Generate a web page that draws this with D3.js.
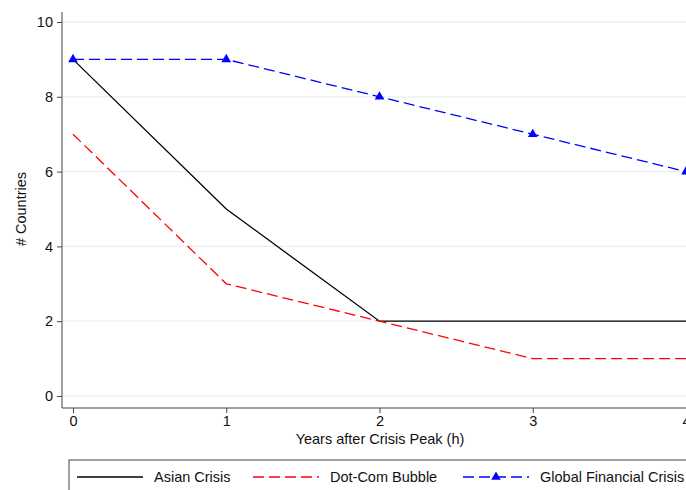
<!DOCTYPE html>
<html>
<head>
<meta charset="utf-8">
<script src="https://cdn.jsdelivr.net/npm/d3@7"></script>
<style>
  html, body { margin: 0; padding: 0; background: #fff; overflow: hidden; }
  svg { display: block; font-family: "Liberation Sans", Arial, sans-serif; }
</style>
</head>
<body>
<svg id="chart" width="686" height="490"></svg>
<script>
// Years after the crisis peak
const years = [0, 1, 2, 3, 4];
// Number of countries still affected
const asianCrisis = [9, 5, 2, 2, 2];
const dotComBubble = [7, 3, 2, 1, 1];
const globalFinancialCrisis = [9, 9, 8, 7, 6];
const yTicks = [0, 2, 4, 6, 8, 10];
const seriesNames = ["Asian Crisis", "Dot-Com Bubble", "Global Financial Crisis"];

const FS = 14.5;
const svg = d3.select("#chart");

const x = d3.scaleLinear().domain([0, 4]).range([73, 686]);
const y = d3.scaleLinear().domain([0, 10]).range([396, 22]);

// Grid lines
svg.append("g")
  .selectAll("line")
  .data(yTicks)
  .join("line")
  .attr("x1", 62).attr("x2", 686)
  .attr("y1", d => y(d)).attr("y2", d => y(d))
  .attr("stroke", "#e8eff3")
  .attr("stroke-width", 1.3);

// Y axis
const yAxis = svg.append("g")
  .attr("transform", "translate(62,0)")
  .call(d3.axisLeft(y).tickValues(yTicks).tickSize(5).tickPadding(4).tickFormat(d3.format("d")));
yAxis.select(".domain").attr("d", "M0,12V408").attr("stroke", "#444");
yAxis.selectAll(".tick line").attr("stroke", "#444");
yAxis.selectAll(".tick text").attr("font-size", FS).attr("fill", "#111")
  .attr("font-family", "Liberation Sans, Arial, sans-serif");

// X axis
const xAxis = svg.append("g")
  .attr("transform", "translate(0,408)")
  .call(d3.axisBottom(x).tickValues(years).tickSize(5).tickPadding(3).tickFormat(d3.format("d")));
xAxis.select(".domain").attr("d", "M62,0H686").attr("stroke", "#444");
xAxis.selectAll(".tick line").attr("stroke", "#444");
xAxis.selectAll(".tick text").attr("font-size", FS).attr("fill", "#111")
  .attr("font-family", "Liberation Sans, Arial, sans-serif");

// Axis titles
svg.append("text")
  .attr("x", 380).attr("y", 444)
  .attr("text-anchor", "middle")
  .attr("font-size", FS).attr("fill", "#111")
  .text("Years after Crisis Peak (h)");

svg.append("text")
  .attr("transform", "translate(26,209) rotate(-90)")
  .attr("text-anchor", "middle")
  .attr("font-size", FS).attr("fill", "#111")
  .text("# Countries");

const line = d3.line().x((d, i) => x(years[i])).y(d => y(d));

const series = [
  { values: asianCrisis, color: "#000000", dash: null, marker: false },
  { values: dotComBubble, color: "#ff0000", dash: "11,5", marker: false },
  { values: globalFinancialCrisis, color: "#0000ff", dash: "11,5", marker: true }
];

series.forEach(s => {
  svg.append("path")
    .attr("d", line(s.values))
    .attr("fill", "none")
    .attr("stroke", s.color)
    .attr("stroke-width", 1.3)
    .attr("stroke-dasharray", s.dash);
  if (s.marker) {
    svg.append("g")
      .selectAll("path")
      .data(s.values)
      .join("path")
      .attr("transform", (d, i) => `translate(${x(years[i])},${y(d)})`)
      .attr("d", d3.symbol(d3.symbolTriangle, 40)())
      .attr("fill", s.color);
  }
});

// Legend
const legend = svg.append("g");
legend.append("rect")
  .attr("x", 69).attr("y", 460).attr("width", 640).attr("height", 40)
  .attr("fill", "#fff").attr("stroke", "#444").attr("stroke-width", 1);

const legendPos = [77, 253, 463];
series.forEach((s, i) => {
  const lx = legendPos[i];
  legend.append("line")
    .attr("x1", lx).attr("x2", lx + 66)
    .attr("y1", 477).attr("y2", 477)
    .attr("stroke", s.color).attr("stroke-width", 1.3)
    .attr("stroke-dasharray", s.dash);
  if (s.marker) {
    legend.append("path")
      .attr("transform", `translate(${lx + 33},477)`)
      .attr("d", d3.symbol(d3.symbolTriangle, 40)())
      .attr("fill", s.color);
  }
  legend.append("text")
    .attr("x", lx + 77).attr("y", 482)
    .attr("font-size", FS).attr("fill", "#111")
    .text(seriesNames[i]);
});
</script>
</body>
</html>
